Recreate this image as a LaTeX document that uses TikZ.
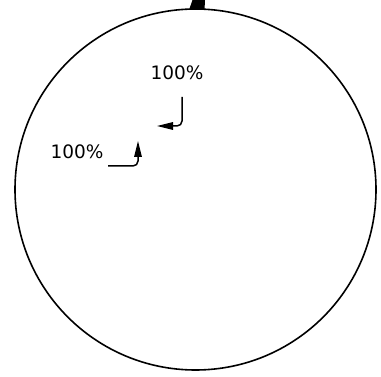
\documentclass[tikz,border=0pt]{standalone}
\usepackage{fontspec}
\setmainfont{DejaVu Sans}
\usetikzlibrary{arrows.meta, positioning}
\definecolor{ink}{HTML}{000000}
\tikzset{
  ring/.style  ={draw=ink, line width=1.6pt},
  share/.style ={font=\fontsize{18.5}{22}\selectfont, text=ink, inner sep=0pt},
  flow/.style  ={-{Triangle[length=16pt,width=7.5pt]}, line width=1.5pt,
                 draw=ink, rounded corners=5pt}
}

\begin{document}
\begin{tikzpicture}[x=1pt, y=-1pt]
  \useasboundingbox (0,0) rectangle (381,377);
  \fill[ink] (189,10) -- (192.5,0) -- (205,0) -- (204.5,10) -- cycle;
  \draw[ring] (195.5,189.5) circle[radius=180.5];

  \node[share] (lbltop)  at (177,73)  {100\%};
  \node[share] (lblleft) at (77,152)  {100\%};

  \coordinate (topstart)  at (182,97);
  \coordinate (toptip)    at (157,126);
  \coordinate (leftstart) at (108,166);
  \coordinate (lefttip)   at (138,141);

  \draw[flow] (topstart)  |- (toptip);
  \draw[flow] (leftstart) -| (lefttip);
\end{tikzpicture}
\end{document}
